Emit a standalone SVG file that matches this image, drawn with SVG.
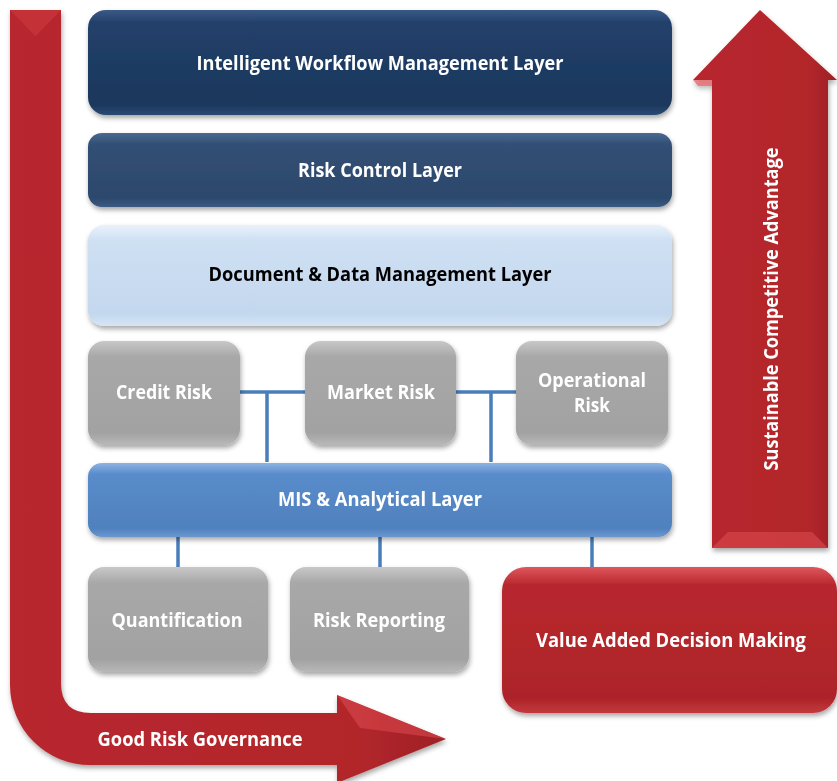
<svg xmlns="http://www.w3.org/2000/svg" width="837" height="781" viewBox="0 0 837 781">
<defs>
<filter id="sh" x="-10%" y="-10%" width="120%" height="130%">
<feDropShadow dx="1" dy="3" stdDeviation="2.5" flood-color="#000" flood-opacity="0.35"/>
</filter>
<linearGradient id="gNavy" x1="0" y1="0" x2="0" y2="1">
<stop offset="0" stop-color="#3a5a86"/><stop offset="0.12" stop-color="#22406a"/><stop offset="0.9" stop-color="#1c375c"/><stop offset="1" stop-color="#2a4a72"/>
</linearGradient>
<linearGradient id="gNavy2" x1="0" y1="0" x2="0" y2="1">
<stop offset="0" stop-color="#4a6a92"/><stop offset="0.15" stop-color="#334f74"/><stop offset="0.88" stop-color="#2c486c"/><stop offset="1" stop-color="#3b5b82"/>
</linearGradient>
<linearGradient id="gLight" x1="0" y1="0" x2="0" y2="1">
<stop offset="0" stop-color="#eaf2fb"/><stop offset="0.15" stop-color="#cfe0f3"/><stop offset="0.88" stop-color="#c3d7ee"/><stop offset="1" stop-color="#d6e5f5"/>
</linearGradient>
<linearGradient id="gGray" x1="0" y1="0" x2="0" y2="1">
<stop offset="0" stop-color="#c8c8c8"/><stop offset="0.15" stop-color="#a8a8a8"/><stop offset="0.88" stop-color="#a2a2a2"/><stop offset="1" stop-color="#b8b8b8"/>
</linearGradient>
<linearGradient id="gBlue" x1="0" y1="0" x2="0" y2="1">
<stop offset="0" stop-color="#8db3e2"/><stop offset="0.15" stop-color="#5a8ccb"/><stop offset="0.88" stop-color="#4f81bd"/><stop offset="1" stop-color="#6b97cf"/>
</linearGradient>
<linearGradient id="gRed" x1="0" y1="0" x2="0" y2="1">
<stop offset="0" stop-color="#e0575c"/><stop offset="0.12" stop-color="#b8282e"/><stop offset="0.9" stop-color="#ad2429"/><stop offset="1" stop-color="#c23a3f"/>
</linearGradient>
<linearGradient id="gRedV" x1="0" y1="0" x2="1" y2="0">
<stop offset="0" stop-color="#b8282e"/><stop offset="0.8" stop-color="#b2262b"/><stop offset="1" stop-color="#9e2126"/>
</linearGradient>
<style>
.t{font-family:"Open Sans","Liberation Sans",sans-serif;font-weight:bold;font-size:19px;text-anchor:middle;fill:#ffffff}
.tk{fill:#000000}
.c{stroke:#4a7ebb;stroke-width:3.5;fill:none}
</style>
</defs>

<g id="good-risk-governance" filter="url(#sh)">
<path d="M10 10 L61 10 L61 683 Q61 713 91 713 L337 713 L337 695 L446 739 L337 783 L337 765 L90 765 A80 80 0 0 1 10 685 Z" fill="url(#gRedV)"/>
<path d="M10 10 L61 10 L35.5 36 Z" fill="#c9383d" opacity="0.7"/>
<path d="M337 695 L446 739 L360 728 Z" fill="#d8474c" opacity="0.6"/>
<text class="t" x="200" y="746" textLength="205" lengthAdjust="spacingAndGlyphs">Good Risk Governance</text>
</g>

<g id="sustainable-competitive-advantage" filter="url(#sh)">
<path d="M760 10 L837 80 L828 80 L828 548 L712 548 L712 80 L693 80 Z" fill="url(#gRedV)"/>
<path d="M712 548 L828 548 L812 532 L728 532 Z" fill="#d4454a" opacity="0.7"/>
<path d="M693 80 L712 80 L712 86 L698 86 Z" fill="#e56065" opacity="0.7"/>
<text class="t" transform="translate(778 309) rotate(-90)" textLength="323" lengthAdjust="spacingAndGlyphs">Sustainable Competitive Advantage</text>
</g>

<g id="connectors">
<path class="c" d="M240 392 L305 392 M267 392 L267 462"/>
<path class="c" d="M456 392 L516 392 M491 392 L491 462"/>
<path class="c" d="M178 537 L178 567 M380 537 L380 567 M592 537 L592 572"/>
</g>

<g id="intelligent-workflow" filter="url(#sh)">
<rect x="88" y="10" width="584" height="105" rx="18" fill="url(#gNavy)"/>
<text class="t" x="380" y="70" textLength="367" lengthAdjust="spacingAndGlyphs">Intelligent Workflow Management Layer</text>
</g>

<g id="risk-control" filter="url(#sh)">
<rect x="88" y="133" width="584" height="74" rx="14" fill="url(#gNavy2)"/>
<text class="t" x="380" y="177" textLength="164" lengthAdjust="spacingAndGlyphs">Risk Control Layer</text>
</g>

<g id="document-data" filter="url(#sh)">
<rect x="88" y="225" width="584" height="101" rx="16" fill="url(#gLight)"/>
<text class="t tk" x="380" y="281" textLength="343" lengthAdjust="spacingAndGlyphs">Document &amp; Data Management Layer</text>
</g>

<g id="credit-risk" filter="url(#sh)">
<rect x="88" y="341" width="152" height="104" rx="16" fill="url(#gGray)"/>
<text class="t" x="164" y="399" textLength="96" lengthAdjust="spacingAndGlyphs">Credit Risk</text>
</g>

<g id="market-risk" filter="url(#sh)">
<rect x="305" y="341" width="151" height="104" rx="16" fill="url(#gGray)"/>
<text class="t" x="381" y="399" textLength="108" lengthAdjust="spacingAndGlyphs">Market Risk</text>
</g>

<g id="operational-risk" filter="url(#sh)">
<rect x="516" y="341" width="152" height="104" rx="16" fill="url(#gGray)"/>
<text class="t" x="592" y="387" textLength="108" lengthAdjust="spacingAndGlyphs">Operational</text>
<text class="t" x="592" y="412" textLength="36" lengthAdjust="spacingAndGlyphs">Risk</text>
</g>

<g id="mis-analytical" filter="url(#sh)">
<rect x="88" y="463" width="584" height="74" rx="14" fill="url(#gBlue)"/>
<text class="t" x="380" y="506" textLength="204" lengthAdjust="spacingAndGlyphs">MIS &amp; Analytical Layer</text>
</g>

<g id="quantification" filter="url(#sh)">
<rect x="88" y="567" width="180" height="105" rx="16" fill="url(#gGray)"/>
<text class="t" x="177" y="627" textLength="131" lengthAdjust="spacingAndGlyphs">Quantification</text>
</g>

<g id="risk-reporting" filter="url(#sh)">
<rect x="290" y="567" width="179" height="105" rx="16" fill="url(#gGray)"/>
<text class="t" x="379" y="627" textLength="132" lengthAdjust="spacingAndGlyphs">Risk Reporting</text>
</g>

<g id="value-added" filter="url(#sh)">
<rect x="502" y="567" width="335" height="146" rx="24" fill="url(#gRed)"/>
<text class="t" x="671" y="647" textLength="270" lengthAdjust="spacingAndGlyphs">Value Added Decision Making</text>
</g>
</svg>
